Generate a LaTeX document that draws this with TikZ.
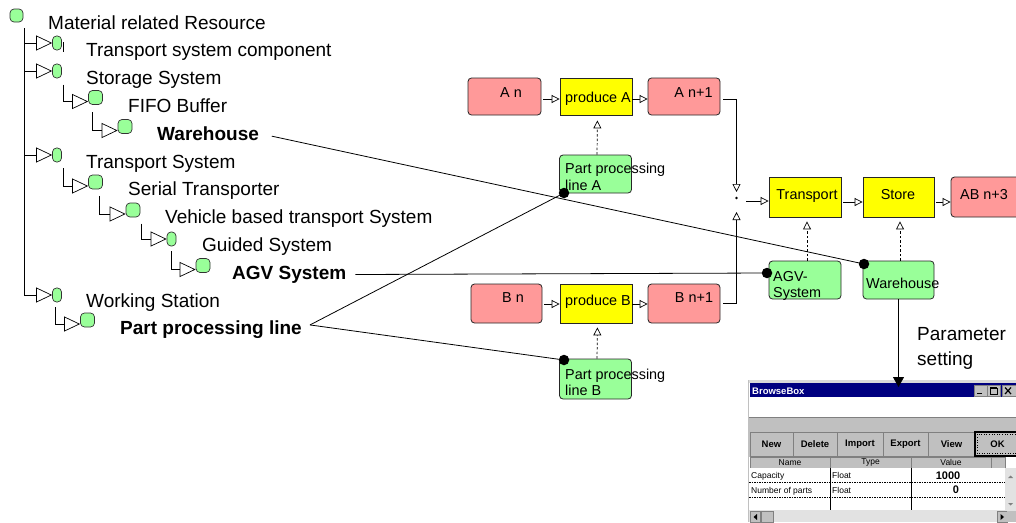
\documentclass[tikz,border=0pt]{standalone}
\usepackage{fontspec}
\setmainfont{Liberation Sans}
\usetikzlibrary{arrows.meta}

\definecolor{itempink}{RGB}{255,153,153}
\definecolor{itemyellow}{RGB}{255,255,0}
\definecolor{itemgreen}{RGB}{153,255,153}
\definecolor{winnavy}{RGB}{0,0,128}
\definecolor{wingray}{RGB}{192,192,192}
\definecolor{windark}{RGB}{128,128,128}
\definecolor{winlight}{RGB}{226,226,226}

\tikzset{
  treelabel/.style={font=\fontsize{19}{23}\selectfont, anchor=base west, inner sep=0pt},
  treebold/.style={treelabel, font=\fontsize{19}{23}\selectfont\bfseries},
  sqicon/.style={draw=black!80, fill=itemgreen, rounded corners=4pt, minimum width=14pt,
    minimum height=14pt, inner sep=0pt, line width=0.7pt},
  pillicon/.style={sqicon, minimum width=9pt},
  genline/.style={line width=0.7pt, -{Triangle[length=16pt, width=15pt, fill=white]}},
  flowbox/.style={draw=black!85, line width=0.8pt, inner sep=0pt, minimum width=72pt, minimum height=38pt},
  pinkbox/.style={flowbox, fill=itempink, rounded corners=3.5pt},
  yellowbox/.style={flowbox, fill=itemyellow},
  greenbox/.style={flowbox, fill=itemgreen, rounded corners=3.5pt},
  flowtext/.style={font=\fontsize{14.4}{17}\selectfont, inner sep=0pt, anchor=base},
  flowtextl/.style={flowtext, anchor=base west},
  flowarrow/.style={line width=0.7pt, -{Triangle[length=8pt, width=8pt, fill=white]}},
  usearrow/.style={flowarrow, dash pattern=on 2.5pt off 2pt},
  linkdot/.style={circle, fill=black, minimum size=10.5pt, inner sep=0pt},
  linkline/.style={line width=0.8pt},
  joint/.style={circle, fill=black, minimum size=2.6pt, inner sep=0pt},
  winbtn/.style={draw=windark, fill=wingray, minimum height=24pt, inner sep=0pt,
    font=\fontsize{9.5}{11}\selectfont\bfseries},
  winhead/.style={draw=windark, fill=wingray, minimum height=11pt, inner sep=0pt,
    font=\fontsize{8.5}{10}\selectfont},
  wincell/.style={font=\fontsize{8.5}{10}\selectfont, anchor=base west, inner sep=0pt},
  winnum/.style={font=\fontsize{11}{12}\selectfont\bfseries, anchor=base, inner sep=0pt},
}

\begin{document}
\begin{tikzpicture}[x=1pt, y=-1pt]
\useasboundingbox (0,0) rectangle (1016,522);
\clip (0,0) rectangle (1016,522);

% ---------------- class tree ----------------
\node[sqicon, minimum width=13pt, minimum height=13pt] (root) at (16.5,15.5) {};
\node[treelabel] (root-l) at (48,29) {Material related Resource};

\node[pillicon] (tsc) at (57,43) {};
\node[treelabel] (tsc-l) at (86,56.8) {Transport system component};
\node[pillicon] (sto) at (57,71) {};
\node[treelabel] (sto-l) at (86,84.6) {Storage System};
\node[sqicon] (fifo) at (95.5,97.5) {};
\node[treelabel] (fifo-l) at (128,112.4) {FIFO Buffer};
\node[sqicon] (wh) at (125,126.5) {};
\node[treebold] (wh-l) at (157,140.2) {Warehouse};
\node[pillicon] (ts) at (57,155) {};
\node[treelabel] (ts-l) at (86,168) {Transport System};
\node[sqicon] (ser) at (95.5,182) {};
\node[treelabel] (ser-l) at (128,195.8) {Serial Transporter};
\node[sqicon] (veh) at (133,210) {};
\node[treelabel] (veh-l) at (165,223.6) {Vehicle based transport System};
\node[pillicon] (gui) at (171.5,239) {};
\node[treelabel] (gui-l) at (202,251.4) {Guided System};
\node[sqicon] (agv) at (203,265.5) {};
\node[treebold] (agv-l) at (232,279.2) {AGV System};
\node[pillicon] (ws) at (57,295) {};
\node[treelabel] (ws-l) at (86,307) {Working Station};
\node[sqicon] (ppl) at (87.5,320) {};
\node[treebold] (ppl-l) at (120,334.8) {Part processing line};

% branch points of the tree
\coordinate (trunk) at (24.5,28);
\coordinate (tsc-br) at (63,42);
\coordinate (sto-br) at (63,84.6);
\coordinate (fifo-br) at (92,112.4);
\coordinate (ts-br) at (63,168);
\coordinate (ser-br) at (99,195.8);
\coordinate (veh-br) at (141,223.6);
\coordinate (gui-br) at (171,251.4);
\coordinate (ws-br) at (55,307);

\draw[genline] (trunk) |- (tsc.west);
\draw[genline] (trunk) |- (sto.west);
\draw[genline] (trunk) |- (ts.west);
\draw[genline] (trunk) |- (ws.west);
\draw[genline] (sto-br) |- ([yshift=-4pt]fifo.west);
\draw[genline] (fifo-br) |- ([yshift=-4pt]wh.west);
\draw[genline] (ts-br) |- ([yshift=-4pt]ser.west);
\draw[genline] (ser-br) |- ([yshift=-4pt]veh.west);
\draw[genline] (veh-br) |- (gui.west);
\draw[genline] (gui-br) |- ([yshift=-4pt]agv.west);
\draw[genline] (ws-br) |- ([yshift=-4pt]ppl.west);
\draw[line width=0.7pt] (tsc-br) -- ++(0,10);

% ---------------- process chain ----------------
\node[pinkbox, minimum width=73pt, minimum height=37pt] (an) at (504.5,96.5) {};
\node[yellowbox, minimum height=37pt] (pa) at (596,96.5) {};
\node[pinkbox, minimum height=37pt] (an1) at (684,96.5) {};
\node[greenbox] (ppa) at (595.5,174) {};
\node[pinkbox, minimum width=71pt, minimum height=39pt] (bn) at (506.5,303.5) {};
\node[yellowbox, minimum height=39pt] (pb) at (596,303.5) {};
\node[pinkbox, minimum height=39pt] (bn1) at (684,303.5) {};
\node[greenbox, minimum height=40pt] (ppb) at (595.5,379) {};
\node[yellowbox, minimum height=40pt] (tr) at (805,197) {};
\node[yellowbox, minimum width=71pt, minimum height=40pt] (st) at (898.5,197) {};
\node[pinkbox, minimum width=80pt, minimum height=40pt] (ab) at (991,197) {};
\node[greenbox] (agvb) at (805,280) {};
\node[greenbox, minimum width=71pt] (whb) at (898.5,280) {};

\node[flowtext] (an-t) at (511,97.5) {A n};
\node[flowtextl] (pa-t) at (565,102) {produce A};
\node[flowtext] (an1-t) at (693.5,97.5) {A n+1};
\node[flowtextl] (ppa-t1) at (565,173.5) {Part processing};
\node[flowtextl] (ppa-t2) at (565,190) {line A};
\node[flowtext] (bn-t) at (513,302) {B n};
\node[flowtextl] (pb-t) at (565,305) {produce B};
\node[flowtext] (bn1-t) at (694,302) {B n+1};
\node[flowtextl] (ppb-t1) at (565,379) {Part processing};
\node[flowtextl] (ppb-t2) at (565,395.5) {line B};
\node[flowtext] (tr-t) at (807,199) {Transport};
\node[flowtext] (st-t) at (898,199) {Store};
\node[flowtextl] (ab-t) at (960,199) {AB n+3};
\node[flowtextl] (agvb-t1) at (773,281) {AGV-};
\node[flowtextl] (agvb-t2) at (773,297) {System};
\node[flowtextl] (whb-t) at (866,288) {Warehouse};

% material flow
\draw[flowarrow] ([xshift=2pt,yshift=-2.5pt]an.east) -- ([yshift=-2.5pt]pa.west);
\draw[flowarrow] ([yshift=-2.5pt]pa.east) -- ([yshift=-2.5pt]an1.west);
\draw[flowarrow] ([xshift=2pt,yshift=-0.5pt]bn.east) -- ([yshift=-0.5pt]pb.west);
\draw[flowarrow] ([yshift=-0.5pt]pb.east) -- ([yshift=-0.5pt]bn1.west);
\node[joint] (jn) at (736.5,198) {};
\draw[flowarrow, shorten >=4.5pt] ([xshift=3pt,yshift=-2.5pt]an1.east) -| (jn.north);
\draw[flowarrow, shorten >=12.5pt] ([xshift=3pt]bn1.east) -| (jn.south);
\draw[flowarrow] ([xshift=8pt,yshift=-3pt]jn.east) -- ([yshift=-4pt]tr.west);
\draw[flowarrow] ([xshift=2pt,yshift=-5pt]tr.east) -- ([yshift=-5pt]st.west);
\draw[flowarrow] ([xshift=2pt,yshift=-5pt]st.east) -- ([yshift=-5pt]ab.west);

% resources used by the functions
\draw[usearrow, shorten >=5pt] ([xshift=1.5pt]ppa.north) -- ([xshift=1.5pt]pa.south);
\draw[usearrow, shorten >=4pt] ([xshift=1.5pt]ppb.north) -- ([xshift=1.5pt]pb.south);
\draw[usearrow, shorten >=4pt] ([xshift=2pt]agvb.north) -- ([xshift=2pt]tr.south);
\draw[usearrow, shorten >=4pt] ([xshift=1.5pt]whb.north) -- ([xshift=1.5pt]st.south);

% links from the tree entries to the resource objects
\node[linkdot] (da) at (564,193) {};
\node[linkdot] (db) at (564,360) {};
\node[linkdot] (dagv) at (767,273) {};
\node[linkdot] (dwh) at (864,264) {};
\coordinate (ppl-tip) at ([xshift=8pt,yshift=5pt]ppl-l.east);
\draw[linkline, shorten <=13pt] (wh-l.east) -- (dwh.center);
\draw[linkline, shorten <=9pt] (agv-l.east) -- (dagv.center);
\draw[linkline] (ppl-tip) -- (da.center);
\draw[linkline] (ppl-tip) -- (db.center);

% ---------------- parameter dialog ----------------
\node[treelabel] (par-l1) at (917,340) {Parameter};
\node[treelabel] (par-l2) at (917,365) {setting};

\fill[wingray!60] (748,380) rectangle (1020,383);
\fill[white] (749,397) rectangle (1020,417);
\draw[wingray, line width=1pt] (748.5,380) -- (748.5,522);
\node[fill=winnavy, minimum width=270pt, minimum height=14pt, inner sep=0pt, anchor=north west] (bb) at (750,383) {};
\node[font=\fontsize{9.5}{11}\selectfont\bfseries, text=white, anchor=base west, inner sep=0pt] (bb-t) at (752,394.5) {BrowseBox};
\draw[line width=0.8pt, -{Triangle[length=10pt, width=11pt]}, shorten >=-4pt] (whb.south) -- (whb.south |- bb.north);

% window buttons
\draw[windark, fill=wingray] (974,385) rectangle (987,396);
\draw[line width=1.6pt] (977,393.5) -- (982,393.5);
\draw[windark, fill=wingray] (987,385) rectangle (1000,396);
\draw[line width=0.7pt] (990,388) rectangle (997,394);
\draw[line width=1.4pt] (990,388) -- (997,388);
\draw[windark, fill=wingray] (1002,385) rectangle (1018,396);
\draw[line width=1.2pt] (1005,387.5) -- (1011,394) (1005,394) -- (1011,387.5);

% toolbar
\fill[wingray] (749,417) rectangle (1020,457);
\draw[windark] (749,417.5) -- (1020,417.5);
\node[winbtn, minimum width=43pt] (b-new) at (771.5,444) {New};
\node[winbtn, minimum width=44pt] (b-del) at (815,444) {Delete};
\node[winbtn, minimum width=46pt] (b-imp) at (860,444) {Import};
\node[winbtn, minimum width=45pt] (b-exp) at (905.5,444) {Export};
\node[winbtn, minimum width=47pt] (b-view) at (951.5,444) {View};
\node[winbtn, minimum width=45pt, draw=black, line width=1.2pt] (b-ok) at (997.5,444) {OK};
\draw[dotted, line width=0.6pt] ([shift={(3pt,-3pt)}]b-ok.north west) rectangle ([shift={(-3pt,3pt)}]b-ok.south east);

% table header
\node[winhead, minimum width=80pt] (h-name) at (790,462.5) {Name};
\node[winhead, minimum width=81pt] (h-type) at (870.5,462.5) {Type};
\node[winhead, minimum width=80pt] (h-val) at (951,462.5) {Value};
\node[winhead, minimum width=14pt] (h-end) at (998,462.5) {};

% table rows
\fill[white] (749,468) rectangle (1005,510);
\draw[line width=0.8pt] (830,468) -- (830,510) (911,468) -- (911,510);
\draw[dash pattern=on 1.5pt off 1pt, line width=0.6pt] (749,482) -- (1005,482) (749,497) -- (1005,497);
\node[wincell] (c-cap) at (751,478) {Capacity};
\node[wincell] (c-cap-t) at (832,478) {Float};
\node[winnum] (c-cap-v) at (948,479) {1000};
\node[wincell] (c-num) at (751,493) {Number of parts};
\node[wincell] (c-num-t) at (832,493) {Float};
\node[winnum] (c-num-v) at (956,493.5) {0};

% scroll bars
\fill[winlight] (1005,468) rectangle (1020,510);
\fill[windark] (1008,478) -- (1013,478) -- (1010.5,475.5) -- cycle;
\fill[windark] (1008,503) -- (1013,503) -- (1010.5,505.5) -- cycle;
\fill[winlight] (749,510) rectangle (1020,522);
\draw[windark, fill=wingray] (750,511) rectangle (760,522);
\fill[black] (757,514) -- (757,520) -- (753.5,517) -- cycle;
\draw[windark, fill=wingray] (761,511) rectangle (773,522);
\draw[windark, fill=wingray] (997,511) rectangle (1007,522);
\fill[black] (1000.5,514) -- (1000.5,520) -- (1004,517) -- cycle;
\fill[wingray] (1007,511) rectangle (1020,522);
\end{tikzpicture}
\end{document}
